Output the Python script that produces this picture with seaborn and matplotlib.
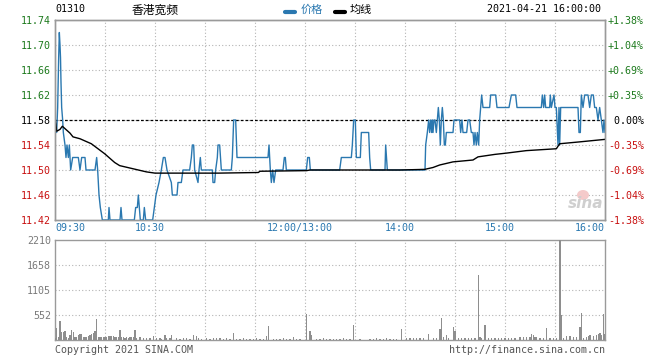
import matplotlib
matplotlib.use("Agg")
import matplotlib.pyplot as plt
import seaborn as sns
import pandas as pd
from matplotlib.transforms import ScaledTranslation
from matplotlib.patches import Ellipse

# ---------------- data ----------------
stock_code = "01310"
stock_name = "香港宽频"
date_label = "2021-04-21 16:00:00"
prev_close = 11.58

# minutes since 09:30 on a continuous trading-time axis (lunch removed)
price_min = [0, 1, 1.6, 2.2, 2.6, 3.0, 3.3, 3.6, 4.0, 4.6, 5.0, 6.0, 6.6, 7.2, 8.0, 8.6, 9.4,
             10.6, 14.0, 15.0, 16.0, 18.0, 18.6, 24.0, 25.0, 25.6, 26.4, 27.2, 28.4, 32.0,
             32.4, 33.0, 39.0, 39.6, 40.2, 47.6, 48.4, 49.4, 50.0, 50.6, 51.2, 53.0, 53.6,
             54.4, 58.6, 59.6, 60.6, 62.4, 63.8, 65.0, 66.0, 67.2, 69.8, 70.4, 73.2, 73.8,
             75.8, 76.8, 80.8, 81.8, 82.4, 83.2, 83.8, 85.8, 86.4, 87.2, 87.8, 94.4, 94.8,
             95.8, 96.4, 97.4, 97.8, 98.8, 99.8, 105.8, 106.4, 107.2, 108.4, 109.2, 127.8,
             128.4, 129.2, 129.8, 130.6, 131.4, 132.4, 136.8, 137.6, 138.2, 138.8, 150.8,
             151.6, 152.6, 153.2, 170.8, 171.8, 177.8, 178.4, 179.2, 180.2, 180.8, 183.2,
             183.8, 188.2, 188.8, 189.4, 198.0, 198.4, 199.4, 222.0, 222.4, 223.4, 224.2,
             224.8, 225.4, 226.0, 226.4, 226.8, 227.4, 228.0, 228.8, 229.4, 230.0, 230.6,
             231.2, 231.8, 232.4, 233.0, 233.6, 234.2, 234.8, 238.8, 239.4, 242.8, 243.4,
             244.2, 244.8, 247.0, 247.8, 248.8, 249.8, 250.8, 251.4, 252.0, 252.8, 253.4,
             254.2, 254.8, 255.4, 256.0, 256.8, 260.8, 261.4, 264.4, 265.2, 272.4, 273.8,
             276.4, 277.2, 291.8, 292.4, 293.2, 293.8, 294.4, 296.8, 297.2, 297.8, 299.4,
             300.0, 300.8, 301.8, 302.4, 302.8, 303.4, 313.8, 314.4, 315.2, 315.8, 316.8,
             317.8, 319.8, 320.8, 321.8, 323.0, 323.8, 324.8, 325.8, 326.8, 327.8, 328.8,
             329.4, 330.0]
price_val = [11.58, 11.56, 11.60, 11.68, 11.72, 11.70, 11.68, 11.64, 11.60, 11.58, 11.56, 11.54,
             11.52, 11.54, 11.52, 11.54, 11.50, 11.52, 11.52, 11.50, 11.52, 11.52, 11.50, 11.50,
             11.52, 11.50, 11.46, 11.44, 11.42, 11.42, 11.44, 11.42, 11.42, 11.44, 11.42, 11.42,
             11.44, 11.44, 11.46, 11.44, 11.42, 11.42, 11.44, 11.42, 11.42, 11.44, 11.46, 11.48,
             11.50, 11.52, 11.52, 11.50, 11.48, 11.46, 11.46, 11.48, 11.48, 11.50, 11.50, 11.52,
             11.54, 11.54, 11.50, 11.48, 11.50, 11.52, 11.50, 11.50, 11.48, 11.48, 11.50, 11.52,
             11.54, 11.54, 11.50, 11.50, 11.52, 11.58, 11.58, 11.52, 11.52, 11.54, 11.50, 11.48,
             11.50, 11.48, 11.50, 11.50, 11.52, 11.52, 11.50, 11.50, 11.52, 11.52, 11.50, 11.50,
             11.52, 11.52, 11.54, 11.58, 11.58, 11.52, 11.52, 11.56, 11.56, 11.52, 11.50, 11.50,
             11.54, 11.50, 11.50, 11.54, 11.56, 11.58, 11.56, 11.58, 11.56, 11.58, 11.56, 11.58,
             11.58, 11.56, 11.58, 11.60, 11.58, 11.54, 11.58, 11.60, 11.58, 11.54, 11.54, 11.56,
             11.56, 11.58, 11.58, 11.56, 11.58, 11.56, 11.56, 11.58, 11.58, 11.56, 11.56, 11.54,
             11.56, 11.54, 11.56, 11.54, 11.58, 11.60, 11.62, 11.60, 11.60, 11.62, 11.62, 11.60,
             11.60, 11.62, 11.62, 11.60, 11.60, 11.62, 11.60, 11.62, 11.60, 11.60, 11.62, 11.60,
             11.62, 11.60, 11.60, 11.54, 11.60, 11.54, 11.60, 11.60, 11.56, 11.56, 11.62, 11.60,
             11.62, 11.62, 11.60, 11.62, 11.62, 11.60, 11.60, 11.58, 11.60, 11.58, 11.56, 11.58,
             11.56]

avg_min = [0, 1, 3, 4.4, 9, 10.8, 15, 21.8, 24.8, 29.8, 35.8, 38.8, 46.8, 54.8, 60, 98, 122,
           123, 151, 153, 175, 207, 221.8, 226.8, 230.8, 238.8, 250.8, 253.8, 264, 270.8,
           282.8, 300.8, 302.8, 314.8, 330]
avg_val = [11.586, 11.562, 11.565, 11.570, 11.559, 11.553, 11.550, 11.542, 11.536, 11.526,
           11.512, 11.507, 11.502, 11.497, 11.495, 11.495, 11.496, 11.498, 11.499, 11.500,
           11.500, 11.500, 11.501, 11.504, 11.508, 11.513, 11.516, 11.521, 11.525, 11.527,
           11.531, 11.534, 11.542, 11.545, 11.549]

vol_min = [0, 1, 2, 3, 4, 5, 6, 7, 8, 9,
           10, 11, 12, 13, 14, 15, 16, 17, 18, 19,
           20, 21, 22, 23, 24, 25, 26, 27, 28, 29,
           30, 31, 32, 33, 34, 35, 36, 37, 38, 39,
           40, 41, 42, 43, 44, 45, 46, 47, 48, 49,
           51, 53, 55, 57, 59, 61, 63, 64, 66, 67,
           69, 70, 73, 75, 77, 79, 81, 83, 85, 86,
           88, 91, 93, 95, 97, 99, 101, 103, 105, 107,
           109, 111, 113, 115, 117, 119, 121, 123, 125, 127,
           128, 131, 133, 135, 137, 139, 141, 143, 145, 147,
           151, 153, 154, 157, 159, 161, 163, 165, 167, 169,
           171, 173, 175, 177, 179, 183, 189, 191, 193, 195,
           197, 199, 201, 203, 205, 208, 211, 213, 215, 217,
           219, 221, 224, 227, 229, 231, 232, 233, 235, 236,
           239, 240, 242, 244, 246, 248, 250, 252, 254, 255,
           256, 258, 260, 262, 264, 266, 268, 270, 272, 274,
           276, 279, 281, 283, 285, 286, 287, 288, 289, 291,
           293, 295, 297, 299, 301, 303, 304, 305, 307, 309,
           311, 313, 315, 316, 317, 319, 320, 321, 323, 325,
           326, 327, 328, 329, 330]
vol_val = [40, 258, 60, 420, 184, 184, 199, 60, 52, 110,
           214, 170, 74, 74, 110, 125, 140, 74, 60, 59,
           88, 110, 125, 147, 199, 457, 60, 74, 74, 74,
           60, 74, 88, 88, 88, 88, 70, 74, 66, 228,
           74, 59, 45, 59, 52, 66, 59, 74, 221, 40,
           59, 52, 52, 45, 88, 37, 52, 30, 110, 37,
           45, 110, 37, 30, 40, 37, 30, 110, 88, 45,
           30, 37, 30, 45, 52, 52, 30, 37, 30, 162,
           30, 30, 37, 30, 22, 30, 37, 30, 22, 88,
           317, 22, 30, 22, 37, 30, 22, 59, 30, 22,
           582, 199, 110, 30, 22, 37, 30, 22, 30, 22,
           30, 37, 30, 22, 332, 30, 22, 30, 37, 30,
           22, 37, 30, 22, 30, 243, 52, 45, 52, 37,
           52, 45, 133, 37, 45, 243, 479, 74, 110, 52,
           287, 199, 45, 37, 52, 45, 37, 52, 1437, 66,
           45, 332, 45, 52, 37, 45, 52, 37, 45, 52,
           45, 66, 66, 59, 66, 133, 110, 74, 74, 52,
           45, 258, 52, 45, 52, 2210, 553, 37, 81, 81,
           66, 66, 287, 590, 37, 66, 88, 110, 81, 110,
           125, 147, 110, 567, 125]

price_ticks = [11.42, 11.46, 11.50, 11.54, 11.58, 11.62, 11.66, 11.70, 11.74]
pct_labels = ["-1.38%", "-1.04%", "-0.69%", "-0.35%", " 0.00%", "+0.35%", "+0.69%", "+1.04%", "+1.38%"]
grid_minutes = [0, 30, 60, 90, 120, 150, 180, 210, 240, 270, 300, 330]
time_label_min = [0, 60, 150, 210, 270, 330]
time_labels = ["09:30", "10:30", "12:00/13:00", "14:00", "15:00", "16:00"]
vol_ticks = [552, 1105, 1658, 2210]
vol_max = 2210

# ---------------- style ----------------
sns.set_theme(style="white")
plt.rcParams['font.family'] = ['DejaVu Sans Mono', 'Noto Sans CJK SC']

BLUE = "#2a78b0"
GREEN = "#1d7a1d"
RED = "#c81010"
GRID = "#b4b4b4"
FRAME = "#9a9a9a"
FS = 7.2

W, H = 660, 360
fig = plt.figure(figsize=(6.6, 3.6), dpi=100)
ax = fig.add_axes([55 / W, 140 / H, 550 / W, 200 / H])
axv = fig.add_axes([55 / W, 20 / H, 550 / W, 100 / H])

df_p = pd.DataFrame({"m": price_min, "p": price_val})
df_a = pd.DataFrame({"m": avg_min, "p": avg_val})
df_v = pd.DataFrame({"m": vol_min, "v": vol_val})

sns.lineplot(data=df_p, x="m", y="p", ax=ax, color=BLUE, linewidth=1.0,
             estimator=None, sort=False, zorder=3)
sns.lineplot(data=df_a, x="m", y="p", ax=ax, color="black", linewidth=1.0,
             estimator=None, sort=False, zorder=4)
ax.axhline(prev_close, color="black", linewidth=0.9, linestyle=(0, (2.2, 1.6)), zorder=2)

ax.set_xlim(0, 330)
ax.set_ylim(11.42, 11.74)
ax.set_xlabel("")
ax.set_ylabel("")
ax.grid(False)

ax.set_xticks(grid_minutes)
ax.set_xticklabels([""] * len(grid_minutes))
ax.set_yticks(price_ticks)
for m in grid_minutes[1:-1]:
    ax.axvline(m, color=GRID, linewidth=0.8, linestyle=(0, (1, 2)), zorder=1)
for p in price_ticks[1:-1]:
    ax.axhline(p, color=GRID, linewidth=0.8, linestyle=(0, (1, 2)), zorder=1)

ax.set_yticklabels([f"{p:.2f}" for p in price_ticks])
for lab, p in zip(ax.get_yticklabels(), price_ticks):
    lab.set_color(GREEN if p > prev_close + 1e-9 else (RED if p < prev_close - 1e-9 else "black"))
    lab.set_fontsize(FS)
ax.tick_params(axis="both", length=0, pad=3)

# time labels
for m, t in zip(time_label_min, time_labels):
    if m == 0:
        ha, dx = "left", 0
    elif m == 330:
        ha, dx = "right", 0
    else:
        ha, dx = "center", -5
    ax.text(m, 11.42, t, ha=ha, va="top", color=BLUE, fontsize=FS,
            transform=ax.transData + ScaledTranslation(dx / 100, -3 / 100, fig.dpi_scale_trans))

# right axis
ax2 = ax.twinx()
ax2.set_ylim(11.42, 11.74)
ax2.set_yticks(price_ticks)
ax2.set_yticklabels(pct_labels)
for lab, p in zip(ax2.get_yticklabels(), price_ticks):
    lab.set_color(GREEN if p > prev_close + 1e-9 else (RED if p < prev_close - 1e-9 else "black"))
    lab.set_fontsize(FS)
ax2.tick_params(axis="y", length=0, pad=2)
ax2.grid(False)

# volume
axv.bar(df_v["m"], df_v["v"], width=0.62, color="#8e8e8e", linewidth=0, zorder=3,
        antialiased=False)
axv.set_xlim(0, 330)
axv.set_ylim(0, vol_max)
axv.set_xticks(grid_minutes)
axv.set_xticklabels([""] * len(grid_minutes))
axv.set_yticks(vol_ticks)
axv.set_yticklabels([str(v) for v in vol_ticks], color="#7a7a7a", fontsize=FS)
axv.tick_params(axis="both", length=0, pad=3)
axv.grid(False)
for m in grid_minutes[1:-1]:
    axv.axvline(m, color=GRID, linewidth=0.8, linestyle=(0, (1, 2)), zorder=1)
for v in vol_ticks[:-1]:
    axv.axhline(v, color=GRID, linewidth=0.8, linestyle=(0, (1, 2)), zorder=1)

for a in (ax, ax2, axv):
    for s in a.spines.values():
        s.set_color(FRAME)
        s.set_linewidth(1.0)

# header texts
fig.text(55 / W, 1 - 9 / H, stock_code, ha="left", va="center", fontsize=FS, color="black")
fig.text(155 / W, 1 - 10 / H, stock_name, ha="center", va="center", fontsize=8.5, color="black")
fig.lines.append(plt.Line2D([285 / W, 295 / W], [1 - 11.5 / H, 1 - 11.5 / H], transform=fig.transFigure,
                            color=BLUE, linewidth=3))
fig.text(301 / W, 1 - 10 / H, "价格", ha="left", va="center", fontsize=8, color=BLUE)
fig.lines.append(plt.Line2D([335 / W, 345 / W], [1 - 11.5 / H, 1 - 11.5 / H], transform=fig.transFigure,
                            color="black", linewidth=3))
fig.text(350 / W, 1 - 10 / H, "均线", ha="left", va="center", fontsize=8, color="black")
fig.text(601 / W, 1 - 9 / H, date_label, ha="right", va="center", fontsize=FS, color="black")

# footer
fig.text(55 / W, 1 - 350 / H, "Copyright 2021 SINA.COM", ha="left", va="center", fontsize=FS, color="#555555")
fig.text(605 / W, 1 - 350 / H, "http://finance.sina.com.cn", ha="right", va="center", fontsize=FS, color="#555555")

# watermark
fig.patches.append(Ellipse((583 / W, 1 - 195 / H), 12 / W, 10 / H, transform=fig.transFigure,
                           facecolor="#f4caca", edgecolor="none", zorder=0))
fig.text(586 / W, 1 - 204 / H, "sina", ha="center", va="center", fontsize=11, color="#cfcfcf",
         fontstyle="italic", fontweight="bold", family="DejaVu Sans")

fig.savefig("out.png", dpi=100)
